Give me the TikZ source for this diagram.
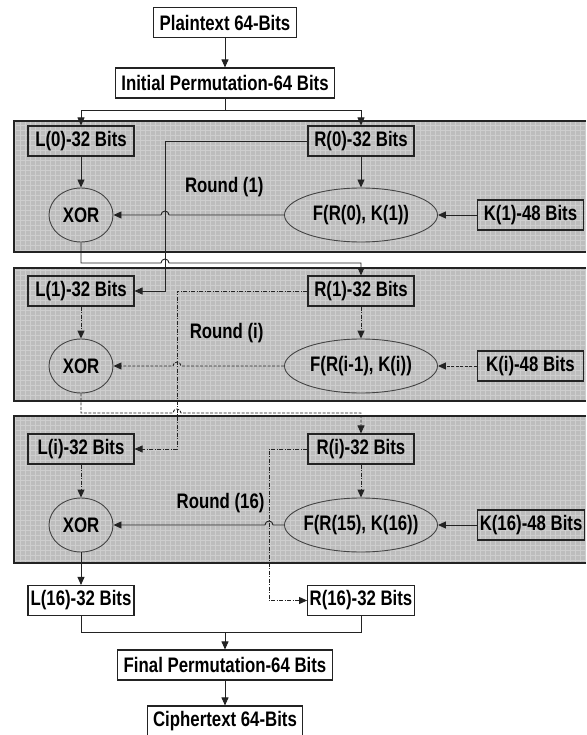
\documentclass[tikz,border=0pt]{standalone}
\usepackage{fontspec}
\setmainfont{Liberation Sans}[FakeStretch=0.8]
\usetikzlibrary{arrows.meta,shapes.geometric,calc}

\definecolor{panelgray}{RGB}{189,189,189}
\definecolor{gridgray}{RGB}{206,206,206}
\definecolor{wire}{RGB}{35,35,35}

\begin{document}
\begin{tikzpicture}[x=1pt, y=-1pt, >={Triangle[length=8pt,width=7pt]},
  font=\bfseries\fontsize{21}{23}\selectfont,
  box/.style={draw=wire, line width=1.1pt, fill=white, inner xsep=6pt, inner ysep=0pt, minimum height=30pt},
  half/.style={draw=wire, line width=1.1pt, inner xsep=2pt, inner ysep=0pt, minimum width=106pt, minimum height=30pt},
  xorop/.style={ellipse, draw=wire!85, line width=0.9pt, inner sep=0pt, minimum width=64pt, minimum height=54pt},
  fop/.style={ellipse, draw=wire!85, line width=0.9pt, inner xsep=-14pt, inner ysep=0pt, minimum width=153pt, minimum height=54pt},
  wr/.style={draw=wire, line width=0.9pt},
  ddot/.style={wr, dash pattern=on 4pt off 1.5pt on 1pt off 1.5pt},
  ddash/.style={wr, dash pattern=on 3pt off 1.5pt},
  panel/.style={fill=panelgray},
  rim/.style={draw=wire, line width=1.2pt},
]
  \useasboundingbox (0,0) rectangle (586,735);

  % round panels
  \path[panel] (14,121) rectangle (586,252);
  \draw[gridgray, line width=0.4pt, step=5pt] (14,121) grid (586,252);
  \draw[rim] (586,121) -- (14,121) -- (14,252) -- (586,252);
  \path[panel] (14,268) rectangle (586,401);
  \draw[gridgray, line width=0.4pt, step=5pt] (14,268) grid (586,401);
  \draw[rim] (586,268) -- (14,268) -- (14,401) -- (586,401);
  \path[panel] (14,416) rectangle (586,563);
  \draw[gridgray, line width=0.4pt, step=5pt] (14,416) grid (586,563);
  \draw[rim] (586,416) -- (14,416) -- (14,563) -- (586,563);

  % wire positions
  \coordinate (v1) at (165,0);
  \coordinate (v2) at (177,0);
  \coordinate (v3) at (269,0);
  \coordinate (h0) at (0,110);
  \coordinate (h1) at (0,263);
  \coordinate (h2) at (0,413);
  \coordinate (h3) at (0,632);

  \node[box] (pt) at (225,22.5) {Plaintext 64-Bits};
  \node[box] (ip) at (225,83) {Initial Permutation-64 Bits};

  \node[half] (l0) at (81,141) {L(0)-32 Bits};
  \node[half] (r0) at (361,141) {R(0)-32 Bits};
  \node[xorop] (x1) at (81,215) {XOR};
  \node[fop] (f1) at (361,215) {F(R(0), K(1))};
  \node[half, anchor=east] (k1) at (584,215) {K(1)-48 Bits};
  \node[anchor=east] (rd1) at (267,187) {Round (1)};

  \node[half] (l1) at (81,291) {L(1)-32 Bits};
  \node[half] (r1) at (361,291) {R(1)-32 Bits};
  \node[xorop] (x2) at (81,366) {XOR};
  \node[fop] (f2) at (361,366) {F(R(i-1), K(i))};
  \node[half, anchor=east] (k2) at (584,366) {K(i)-48 Bits};
  \node[anchor=east] (rdi) at (267,333) {Round (i)};

  \node[half] (li) at (81,449) {L(i)-32 Bits};
  \node[half] (ri) at (361,449) {R(i)-32 Bits};
  \node[xorop] (x3) at (81,525) {XOR};
  \node[fop] (f3) at (361,525) {F(R(15), K(16))};
  \node[half, anchor=east] (k3) at (585,525) {K(16)-48 Bits};
  \node[anchor=east] (rd16) at (268,503) {Round (16)};

  \node[half, fill=white] (l16) at (81,600.5) {L(16)-32 Bits};
  \node[half, fill=white] (r16) at (361,600.5) {R(16)-32 Bits};
  \node[box] (fp) at (225,665) {Final Permutation-64 Bits};
  \node[box] (ct) at (225,721) {Ciphertext 64-Bits};

  % input
  \draw[wr,->] (pt) -- (ip);
  \draw[wr] (ip.south) -- (ip.south |- h0);
  \draw[wr,->] (ip.south |- h0) -| (l0.north);
  \draw[wr,->] (ip.south |- h0) -| (r0.north);

  % round 1
  \draw[wr,->] (l0) -- (x1);
  \draw[wr,->] (r0) -- (f1);
  \draw[wr,->] (k1) -- (f1);
  \draw[wr,->] (f1.west) -- ($(f1.west -| v1)+(4,0)$) arc[start angle=0, end angle=180, radius=4pt] -- (x1.east);
  \draw[wr,->] (r0.west) -- (r0.west -| v1) |- (l1.east);
  \draw[wr,->] (x1.south) |- ($(h1 -| v1)-(4,0)$) arc[start angle=180, end angle=0, radius=4pt] -| (r1.north);

  % round i
  \draw[ddot,->] (l1) -- (x2);
  \draw[ddot,->] (r1) -- (f2);
  \draw[ddash,->] (k2) -- (f2);
  \draw[ddash,->] (f2.west) -- ($(f2.west -| v2)+(4,0)$) arc[start angle=0, end angle=180, radius=4pt] -- (x2.east);
  \draw[ddot,->] (r1.west) -- (r1.west -| v2) |- (li.east);
  \draw[ddash,->] (x2.south) |- ($(h2 -| v2)-(4,0)$) arc[start angle=180, end angle=0, radius=4pt] -| (ri.north);

  % round 16
  \draw[ddot,->] (li) -- (x3);
  \draw[ddot,->] (ri) -- (f3);
  \draw[wr,->] (k3) -- (f3);
  \draw[wr,->] (f3.west) -- ($(f3.west -| v3)+(4,0)$) arc[start angle=0, end angle=180, radius=4pt] -- (x3.east);
  \draw[ddot,->] (ri.west) -- (ri.west -| v3) |- (r16.west);

  % output
  \draw[wr,->] (x3) -- (l16);
  \draw[wr] (l16.south) |- (r16.south |- h3) -- (r16.south);
  \draw[wr,->] (fp.north |- h3) -- (fp);
  \draw[wr,->] (fp) -- (ct);
\end{tikzpicture}
\end{document}
